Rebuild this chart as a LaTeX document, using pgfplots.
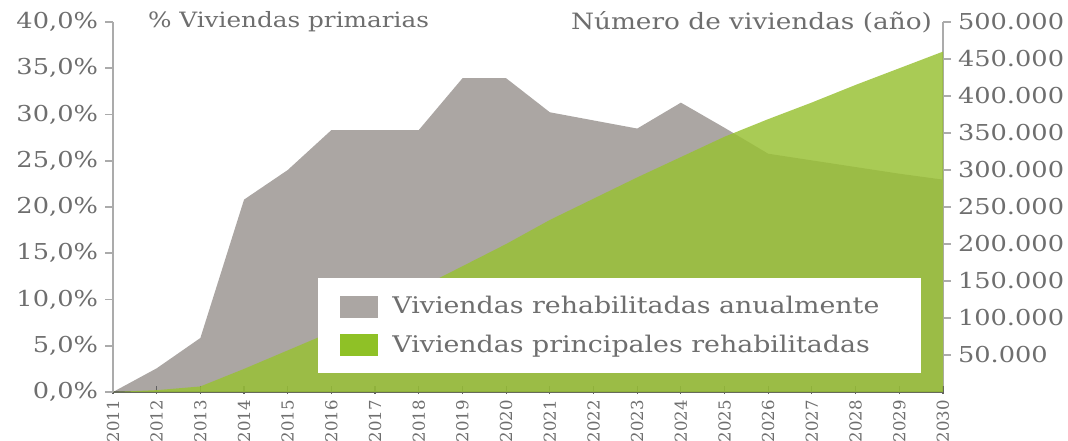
\documentclass[border=0pt]{standalone}
\usepackage{fontspec}
\setmainfont{DejaVu Serif}[FakeStretch=1.17]
\newfontfamily\yearfont{DejaVu Serif}
\usepackage{pgfplots}
\usepackage{pgfplotstable}
\pgfplotsset{compat=1.18}
\definecolor{txt}{HTML}{6E6E6E}
\definecolor{annual}{HTML}{ABA6A3}
\definecolor{stock}{HTML}{99C135}
\definecolor{stockkey}{HTML}{8FC126}
\definecolor{axisgray}{HTML}{ABABAB}
\definecolor{basegray}{HTML}{606060}

% viviendas rehabilitadas cada año (eje derecho)
\pgfplotstableread{
year units
2011 0
2012 32000
2013 73000
2014 260000
2015 300000
2016 354000
2017 354000
2018 354000
2019 424000
2020 424000
2021 378000
2022 367000
2023 356000
2024 391000
2025 357000
2026 322000
2027 313000
2028 304000
2029 295000
2030 287000
}\annualtable

% % de viviendas principales rehabilitadas (eje izquierdo)
\pgfplotstableread{
year share
2011 0
2012 0.2
2013 0.6
2014 2.5
2015 4.5
2016 6.5
2017 8.9
2018 11.2
2019 13.6
2020 16.0
2021 18.6
2022 20.9
2023 23.2
2024 25.4
2025 27.6
2026 29.5
2027 31.3
2028 33.2
2029 35.0
2030 36.8
}\sharetable

\begin{document}
\begin{tikzpicture}
\useasboundingbox (-56.5bp,-24.5bp) rectangle (477.5bp,196bp);

% eje derecho: viviendas por año
\begin{axis}[
    at={(0,0)}, anchor=south west,
    scale only axis, width=415bp, height=185bp,
    xmin=2011, xmax=2030, ymin=0, ymax=500000,
    clip=false,
    axis x line=none,
    axis y line*=right,
    axis line style={-},
    y axis line style={draw=axisgray, line width=1bp},
    ytick={50000,100000,...,500000},
    scaled y ticks=false,
    yticklabel={\pgfmathprintnumber[fixed,precision=0,1000 sep={.}]{\tick}},
    /pgf/number format/assume math mode=true,
    ytick style={draw=axisgray, line width=0.8bp},
    tick align=outside, major tick length=4bp,
    y tick label style={font=\fontsize{11}{13}\selectfont, text=txt},
]
\addplot[fill=annual, draw=none] table[x=year, y=units]{\annualtable} \closedcycle;
\end{axis}

% eje izquierdo: porcentaje acumulado
\begin{axis}[
    at={(0,0)}, anchor=south west,
    scale only axis, width=415bp, height=185bp,
    xmin=2011, xmax=2030, ymin=0, ymax=40,
    clip=false,
    axis x line*=bottom,
    axis y line*=left,
    axis line style={-},
    y axis line style={draw=axisgray, line width=1bp},
    x axis line style={draw=basegray, line width=0.8bp},
    ytick={0,5,...,40},
    yticklabel={\pgfmathprintnumber[fixed,fixed zerofill,precision=1,use comma]{\tick}\%},
    xtick={2011,2012,...,2030},
    /pgf/number format/assume math mode=true,
    x tick label style={/pgf/number format/1000 sep=, rotate=90, anchor=east,
        inner sep=2bp, font=\yearfont\fontsize{8.3}{10}\selectfont, text=txt},
    y tick label style={font=\fontsize{11}{13}\selectfont, text=txt},
    ytick style={draw=axisgray, line width=0.8bp},
    xtick style={draw=basegray, line width=0.6bp, yshift=1bp},
    tick align=outside, major tick length=4bp,
    xtick align=center,
    legend image code/.code={\fill[#1, draw=none] (0bp,-5.5bp) rectangle (19bp,5.5bp);},
    legend style={at={(rel axis cs:0.247,0.308)}, anchor=north west,
        fill=white, draw=none, inner xsep=11bp, inner ysep=7bp,
        row sep=5bp, column sep=5bp, font=\fontsize{11.5}{13}\selectfont, text=txt,
        cells={anchor=west}},
]
\addplot[fill=stock, fill opacity=0.84, draw=none, forget plot]
    table[x=year, y=share]{\sharetable} \closedcycle;
\addlegendimage{fill=annual, draw=none}
\addlegendimage{fill=stockkey, draw=none}
\legend{Viviendas rehabilitadas anualmente\hspace*{8bp}, Viviendas principales rehabilitadas}
\node[anchor=west, text=txt, font=\fontsize{10.6}{13}\selectfont, xshift=14bp]
    at (rel axis cs:0,1) {\% Viviendas primarias};
\node[anchor=east, text=txt, font=\fontsize{11.3}{13}\selectfont, xshift=-2bp]
    at (rel axis cs:1,1) {Número de viviendas (año)};
\end{axis}
\end{tikzpicture}
\end{document}
